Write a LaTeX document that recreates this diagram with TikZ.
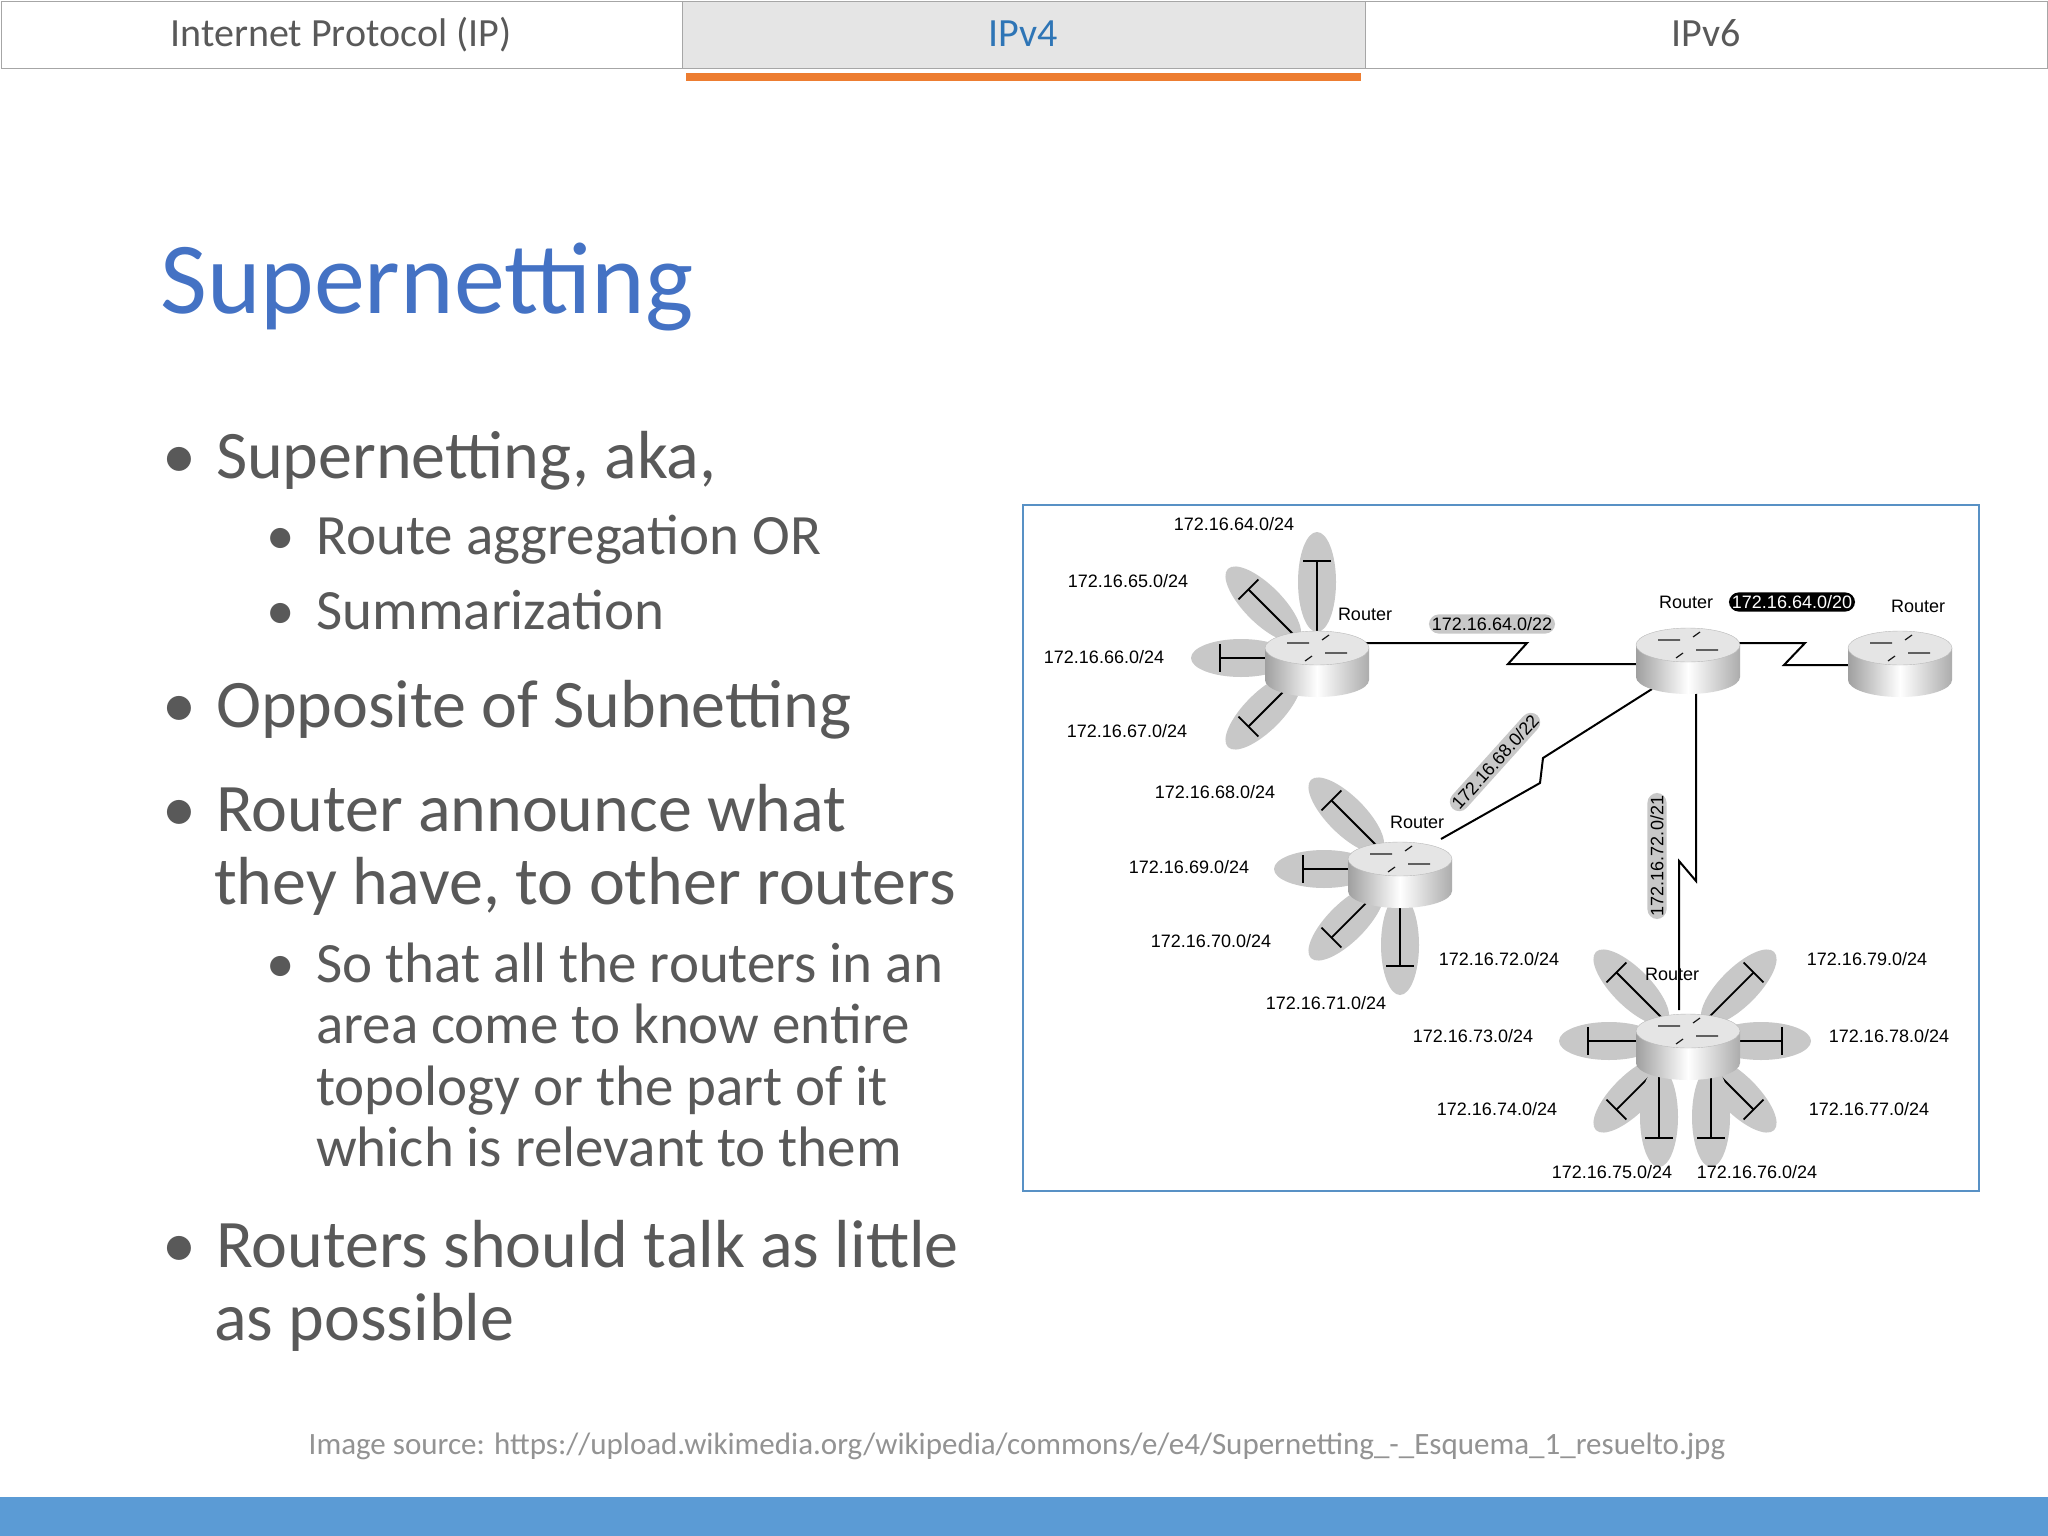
\documentclass[tikz,border=0pt]{standalone}
\usepackage{fontspec}
\setmainfont{Carlito}
\newfontfamily\diag{Liberation Sans}
\definecolor{txt}{HTML}{595959}
\definecolor{ttl}{HTML}{4472C4}
\definecolor{tabblue}{HTML}{2E75B6}
\definecolor{orng}{HTML}{ED7D31}
\definecolor{barblue}{HTML}{5B9BD5}
\definecolor{petalc}{HTML}{C8C8C8}
\newcommand\fs[1]{\fontsize{#1}{#1}\selectfont}
\newcommand\rtr[3]{%
  \coordinate (#1) at (#2,-#3);
  \shade[left color=gray!75,right color=gray!65,middle color=white] (#2-52,-#3+10) -- (#2-52,-#3-22) arc[start angle=180,end angle=360,x radius=52,y radius=17] -- (#2+52,-#3+10) -- cycle;
  \fill[gray!20] (#2,-#3+10) ellipse (52 and 17);
  \draw[gray!55] (#2,-#3+10) ellipse (52 and 17);
  \draw[gray!20!black,line width=1.2pt] (#2-30,-#3+15) -- (#2-8,-#3+15) (#2+8,-#3+5) -- (#2+30,-#3+5) (#2-5,-#3+2) -- (#2-12,-#3-3) (#2+5,-#3+18) -- (#2+12,-#3+23);
}
% petal: center, angle, offset
\newcommand\ptl[3]{%
  \begin{scope}[shift={(#1)},rotate=#2]
    \fill[petalc] (76,#3) ellipse (50 and 19);
    \draw[line width=1.8pt] (0,#3) -- (97,#3);
    \draw[line width=1.8pt] (97,#3-14) -- (97,#3+14);
  \end{scope}}
\tikzset{
  tabtxt/.style={font=\fs{40},text=txt,anchor=base},
  l1/.style={font=\fs{68},text=txt,anchor=base west,inner sep=0},
  l2/.style={font=\fs{57},text=txt,anchor=base west,inner sep=0},
  dl/.style={font=\diag\fs{18},inner sep=1pt},
  pill/.style={fill=petalc,rounded corners=10pt,font=\diag\fs{18},inner sep=3pt},
  link/.style={line width=2pt}
}
\begin{document}
\begin{tikzpicture}[x=1pt,y=1pt]
\useasboundingbox (0,-1536) rectangle (2048,0);
\fill[white] (0,-1536) rectangle (2048,0);
% tabs
\draw[gray!70,fill=white] (1,-1) rectangle (682,-68);
\draw[gray!70,fill=gray!20] (682,-1) rectangle (1365,-68);
\draw[gray!70,fill=white] (1365,-1) rectangle (2047,-68);
\fill[orng] (686,-73) rectangle (1361,-81);
\node[tabtxt] (t1) at (341,-47) {Internet Protocol (IP)};
\node[tabtxt,text=tabblue] (t2) at (1023,-47) {IPv4};
\node[tabtxt] (t3) at (1706,-47) {IPv6};
% title
\node[anchor=base west,inner sep=0,font=\fs{102},text=ttl] (title) at (160,-313) {Supernetting};
% bullets
\node[l1] (b1) at (162,-478) {•\hspace{20pt}Supernetting, aka,};
\node[l2] (b2) at (266,-554) {•\hspace{22pt}Route aggregation OR};
\node[l2] (b3) at (266,-629) {•\hspace{22pt}Summarization};
\node[l1] (b4) at (162,-727) {•\hspace{20pt}Opposite of Subnetting};
\node[l1] (b5) at (162,-831) {•\hspace{20pt}Router announce what};
\node[l1] (b5b) at (214,-904) {they have, to other routers};
\node[l2] (b6) at (266,-982) {•\hspace{22pt}So that all the routers in an};
\node[l2] (b6b) at (316,-1043) {area come to know entire};
\node[l2] (b6c) at (316,-1105) {topology or the part of it};
\node[l2] (b6d) at (316,-1166) {which is relevant to them};
\node[l1] (b7) at (162,-1267) {•\hspace{20pt}Routers should talk as little};
\node[l1] (b7b) at (214,-1340) {as possible};
% footer
\node[anchor=base,font=\fs{31},text=gray!85] (src) at (1017,-1454) {Image source: https://upload.wikimedia.org/wikipedia/commons/e/e4/Supernetting\_-\_Esquema\_1\_resuelto.jpg};
\fill[barblue] (0,-1497) rectangle (2048,-1536);
% diagram frame
\draw[tabblue!80,line width=1.2pt] (1023,-505) rectangle (1979,-1191);
% petals
\coordinate (p1) at (1317,-658);
\coordinate (p4) at (1400,-869);
\coordinate (p5) at (1685,-1041);
\foreach \a in {90,135,180,225} {\ptl{p1}{\a}{0}}
\foreach \a in {135,180,225,270} {\ptl{p4}{\a}{0}}
\foreach \a in {135,180,225,315,0,45} {\ptl{p5}{\a}{0}}
\ptl{p5}{270}{-26}
\ptl{p5}{270}{26}
% links
\draw[link] (1360,-643) -- (1527,-643) -- (1508,-664) -- (1640,-664);
\draw[link] (1735,-643) -- (1805,-643) -- (1784,-665) -- (1855,-665);
\draw[link] (1652,-689) -- (1543,-758) -- (1540,-783) -- (1441,-839);
\draw[link] (1696,-689) -- (1696,-881) -- (1679,-861) -- (1679,-1010);
% routers
\rtr{r1}{1317}{658}
\rtr{r2}{1688}{655}
\rtr{r3}{1900}{658}
\rtr{r4}{1400}{869}
\rtr{r5}{1688}{1041}
% labels
\node[dl] (l64) at (1234,-524) {172.16.64.0/24};
\node[dl] (l65) at (1128,-581) {172.16.65.0/24};
\node[dl] (l66) at (1104,-657) {172.16.66.0/24};
\node[dl] (l67) at (1127,-731) {172.16.67.0/24};
\node[dl] (rl1) at (1365,-614) {Router};
\node[pill] (s22) at (1492,-624) {172.16.64.0/22};
\node[dl] (rl2) at (1686,-602) {Router};
\node[pill,fill=black,text=white] (s20) at (1792,-602) {172.16.64.0/20};
\node[dl] (rl3) at (1918,-606) {Router};
\node[pill,rotate=48] (s68) at (1495,-762) {172.16.68.0/22};
\node[dl] (l68) at (1215,-792) {172.16.68.0/24};
\node[dl] (l69) at (1189,-867) {172.16.69.0/24};
\node[dl] (l70) at (1211,-941) {172.16.70.0/24};
\node[dl] (l71) at (1326,-1003) {172.16.71.0/24};
\node[dl] (rl4) at (1417,-822) {Router};
\node[pill,rotate=90] (s72) at (1657,-856) {172.16.72.0/21};
\node[dl] (l72) at (1499,-959) {172.16.72.0/24};
\node[dl] (l73) at (1473,-1036) {172.16.73.0/24};
\node[dl] (l74) at (1497,-1109) {172.16.74.0/24};
\node[dl] (l75) at (1612,-1172) {172.16.75.0/24};
\node[dl] (l76) at (1757,-1172) {172.16.76.0/24};
\node[dl] (l77) at (1869,-1109) {172.16.77.0/24};
\node[dl] (l78) at (1889,-1036) {172.16.78.0/24};
\node[dl] (l79) at (1867,-959) {172.16.79.0/24};
\node[dl] (rl5) at (1672,-974) {Router};
\end{tikzpicture}
\end{document}
